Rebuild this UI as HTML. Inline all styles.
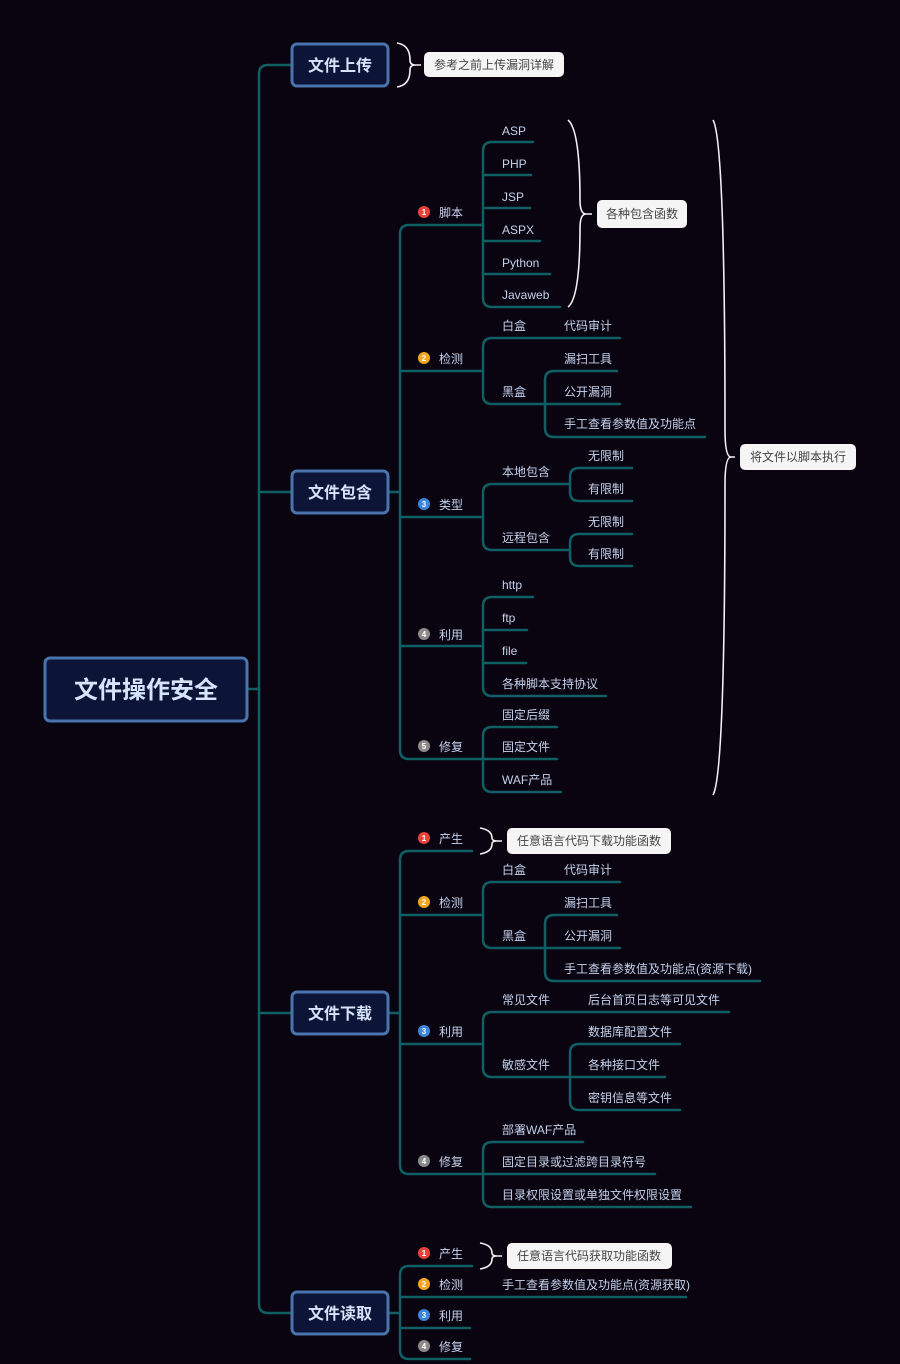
<!DOCTYPE html>
<html><head><meta charset="utf-8"><style>
html,body{margin:0;padding:0;background:#0a0410;}
svg{display:block}
text{font-family:"Liberation Sans","Noto Sans CJK SC",sans-serif;}
.t{fill:#c4d2ec;font-size:12px}
.n{fill:#fff;font-size:8px;font-weight:bold}
.l1{fill:#d6e4fb;font-size:16px;font-weight:bold}
.lb{fill:#444;font-size:12px}
</style></head><body>
<svg width="900" height="1364" viewBox="0 0 900 1364" xmlns="http://www.w3.org/2000/svg">
<rect width="900" height="1364" fill="#0a0410"/>
<g fill="none" stroke="#0f5f64" stroke-width="2.5" stroke-linecap="round">
<path d="M247 689 H259"/>
<path d="M291 65 H268 Q259 65 259 74 V1304 Q259 1313 268 1313 H291"/>
<path d="M259 492 H291"/><path d="M259 1013 H291"/>
<!-- 文件包含 -->
<path d="M388 492 H400"/>
<path d="M483 225 H409 Q400 225 400 234 V750 Q400 759 409 759 H483"/>
<path d="M400 371 H483"/><path d="M400 517 H483"/><path d="M400 646 H483"/>
<path d="M533 142 H492 Q483 142 483 151 V298 Q483 307 492 307 H560"/>
<path d="M483 175 H531"/><path d="M483 208 H530"/><path d="M483 241 H540"/><path d="M483 274 H550"/>
<path d="M620 338 H492 Q483 338 483 347 V395 Q483 404 492 404 H545"/>
<path d="M617 371 H554 Q545 371 545 380 V428 Q545 437 554 437 H705"/><path d="M545 404 H620"/>
<path d="M570 484 H492 Q483 484 483 493 V541 Q483 550 492 550 H570"/>
<path d="M632 468 H579 Q570 468 570 477 V492 Q570 501 579 501 H632"/>
<path d="M632 534 H579 Q570 534 570 543 V557 Q570 566 579 566 H632"/>
<path d="M533 597 H492 Q483 597 483 606 V687 Q483 696 492 696 H606"/>
<path d="M483 630 H527"/><path d="M483 663 H526"/>
<path d="M557 727 H492 Q483 727 483 736 V783 Q483 792 492 792 H561"/><path d="M483 759 H557"/>
<!-- 文件下载 -->
<path d="M388 1013 H400"/>
<path d="M472 851 H409 Q400 851 400 860 V1165 Q400 1174 409 1174 H483"/>
<path d="M400 915 H483"/><path d="M400 1044 H483"/>
<path d="M620 882 H492 Q483 882 483 891 V939 Q483 948 492 948 H545"/>
<path d="M617 915 H554 Q545 915 545 924 V972 Q545 981 554 981 H760"/><path d="M545 948 H620"/>
<path d="M729 1012 H492 Q483 1012 483 1021 V1068 Q483 1077 492 1077 H570"/>
<path d="M680 1044 H579 Q570 1044 570 1053 V1101 Q570 1110 579 1110 H680"/><path d="M570 1077 H665"/>
<path d="M583 1142 H492 Q483 1142 483 1151 V1198 Q483 1207 492 1207 H691"/><path d="M483 1174 H655"/>
<!-- 文件读取 -->
<path d="M388 1313 H400"/>
<path d="M472 1266 H409 Q400 1266 400 1275 V1350 Q400 1359 409 1359 H470"/>
<path d="M400 1297 H686"/><path d="M400 1328 H470"/>
</g>
<!-- braces -->
<g fill="none" stroke="#f2f2f2" stroke-width="1.6">
<path d="M397 43 Q410 45 410 60 Q410 65 415 65 Q410 65 410 70 Q410 85 397 87 M415 65 H421"/>
<path d="M568 120 Q580 130 580 200 Q580 214 586 214 Q580 214 580 228 Q580 298 568 307 M586 214 H592"/>
<path d="M713 120 Q725 140 725 430 Q725 457 731 457 Q725 457 725 484 Q725 775 713 795 M731 457 H735"/>
<path d="M480 828 Q492 830 492 838 Q492 841 497 841 Q492 841 492 844 Q492 852 480 854 M497 841 H502"/>
<path d="M480 1243 Q492 1245 492 1253 Q492 1256 497 1256 Q492 1256 492 1259 Q492 1267 480 1269 M497 1256 H502"/>
</g>
<g fill="#f5f5f5">
<rect x="424" y="52" width="140" height="25" rx="5"/>
<rect x="597" y="200" width="90" height="28" rx="5"/>
<rect x="740" y="444" width="116" height="26" rx="5"/>
<rect x="507" y="828" width="164" height="26" rx="5"/>
<rect x="507" y="1243" width="165" height="26" rx="5"/>
</g>
<text class="lb" x="494" y="69" text-anchor="middle">参考之前上传漏洞详解</text>
<text class="lb" x="642" y="218" text-anchor="middle">各种包含函数</text>
<text class="lb" x="798" y="461" text-anchor="middle">将文件以脚本执行</text>
<text class="lb" x="589" y="845" text-anchor="middle">任意语言代码下载功能函数</text>
<text class="lb" x="589" y="1260" text-anchor="middle">任意语言代码获取功能函数</text>
<!-- boxes -->
<g fill="#0c1437" stroke="#4a74ad" stroke-width="3">
<rect x="45" y="658" width="202" height="63" rx="5"/>
<rect x="292" y="44" width="96" height="42" rx="5"/>
<rect x="292" y="471" width="96" height="42" rx="5"/>
<rect x="292" y="992" width="96" height="42" rx="5"/>
<rect x="292" y="1292" width="96" height="42" rx="5"/>
</g>
<text x="146" y="698" text-anchor="middle" style="fill:#d6e4fb;font-size:24px;font-weight:bold">文件操作安全</text>
<text class="l1" x="340" y="71" text-anchor="middle">文件上传</text>
<text class="l1" x="340" y="498" text-anchor="middle">文件包含</text>
<text class="l1" x="340" y="1019" text-anchor="middle">文件下载</text>
<text class="l1" x="340" y="1319" text-anchor="middle">文件读取</text>
<!-- markers -->
<g>
<circle cx="424" cy="212" r="6" fill="#e8423a"/><text class="n" x="424" y="215" text-anchor="middle">1</text>
<circle cx="424" cy="358" r="6" fill="#f4a623"/><text class="n" x="424" y="361" text-anchor="middle">2</text>
<circle cx="424" cy="504" r="6" fill="#3a84e0"/><text class="n" x="424" y="507" text-anchor="middle">3</text>
<circle cx="424" cy="634" r="6" fill="#8a8a8a"/><text class="n" x="424" y="637" text-anchor="middle">4</text>
<circle cx="424" cy="746" r="6" fill="#8a8a8a"/><text class="n" x="424" y="749" text-anchor="middle">5</text>
<circle cx="424" cy="838" r="6" fill="#e8423a"/><text class="n" x="424" y="841" text-anchor="middle">1</text>
<circle cx="424" cy="902" r="6" fill="#f4a623"/><text class="n" x="424" y="905" text-anchor="middle">2</text>
<circle cx="424" cy="1031" r="6" fill="#3a84e0"/><text class="n" x="424" y="1034" text-anchor="middle">3</text>
<circle cx="424" cy="1161" r="6" fill="#8a8a8a"/><text class="n" x="424" y="1164" text-anchor="middle">4</text>
<circle cx="424" cy="1253" r="6" fill="#e8423a"/><text class="n" x="424" y="1256" text-anchor="middle">1</text>
<circle cx="424" cy="1284" r="6" fill="#f4a623"/><text class="n" x="424" y="1287" text-anchor="middle">2</text>
<circle cx="424" cy="1315" r="6" fill="#3a84e0"/><text class="n" x="424" y="1318" text-anchor="middle">3</text>
<circle cx="424" cy="1346" r="6" fill="#8a8a8a"/><text class="n" x="424" y="1349" text-anchor="middle">4</text>
</g>
<g class="t">
<text class="t" x="439" y="217">脚本</text>
<text class="t" x="439" y="363">检测</text>
<text class="t" x="439" y="509">类型</text>
<text class="t" x="439" y="639">利用</text>
<text class="t" x="439" y="751">修复</text>
<text class="t" x="502" y="135">ASP</text>
<text class="t" x="502" y="168">PHP</text>
<text class="t" x="502" y="201">JSP</text>
<text class="t" x="502" y="234">ASPX</text>
<text class="t" x="502" y="267">Python</text>
<text class="t" x="502" y="299">Javaweb</text>
<text class="t" x="502" y="330">白盒</text>
<text class="t" x="564" y="330">代码审计</text>
<text class="t" x="502" y="396">黑盒</text>
<text class="t" x="564" y="363">漏扫工具</text>
<text class="t" x="564" y="396">公开漏洞</text>
<text class="t" x="564" y="428">手工查看参数值及功能点</text>
<text class="t" x="502" y="476">本地包含</text>
<text class="t" x="588" y="460">无限制</text>
<text class="t" x="588" y="493">有限制</text>
<text class="t" x="502" y="542">远程包含</text>
<text class="t" x="588" y="526">无限制</text>
<text class="t" x="588" y="558">有限制</text>
<text class="t" x="502" y="589">http</text>
<text class="t" x="502" y="622">ftp</text>
<text class="t" x="502" y="655">file</text>
<text class="t" x="502" y="688">各种脚本支持协议</text>
<text class="t" x="502" y="719">固定后缀</text>
<text class="t" x="502" y="751">固定文件</text>
<text class="t" x="502" y="784">WAF产品</text>
<text class="t" x="439" y="843">产生</text>
<text class="t" x="439" y="907">检测</text>
<text class="t" x="439" y="1036">利用</text>
<text class="t" x="439" y="1166">修复</text>
<text class="t" x="502" y="874">白盒</text>
<text class="t" x="564" y="874">代码审计</text>
<text class="t" x="502" y="940">黑盒</text>
<text class="t" x="564" y="907">漏扫工具</text>
<text class="t" x="564" y="940">公开漏洞</text>
<text class="t" x="564" y="973">手工查看参数值及功能点(资源下载)</text>
<text class="t" x="502" y="1004">常见文件</text>
<text class="t" x="588" y="1004">后台首页日志等可见文件</text>
<text class="t" x="502" y="1069">敏感文件</text>
<text class="t" x="588" y="1036">数据库配置文件</text>
<text class="t" x="588" y="1069">各种接口文件</text>
<text class="t" x="588" y="1102">密钥信息等文件</text>
<text class="t" x="502" y="1134">部署WAF产品</text>
<text class="t" x="502" y="1166">固定目录或过滤跨目录符号</text>
<text class="t" x="502" y="1199">目录权限设置或单独文件权限设置</text>
<text class="t" x="439" y="1258">产生</text>
<text class="t" x="439" y="1289">检测</text>
<text class="t" x="502" y="1289">手工查看参数值及功能点(资源获取)</text>
<text class="t" x="439" y="1320">利用</text>
<text class="t" x="439" y="1351">修复</text>
</g>
</svg>
</body></html>
